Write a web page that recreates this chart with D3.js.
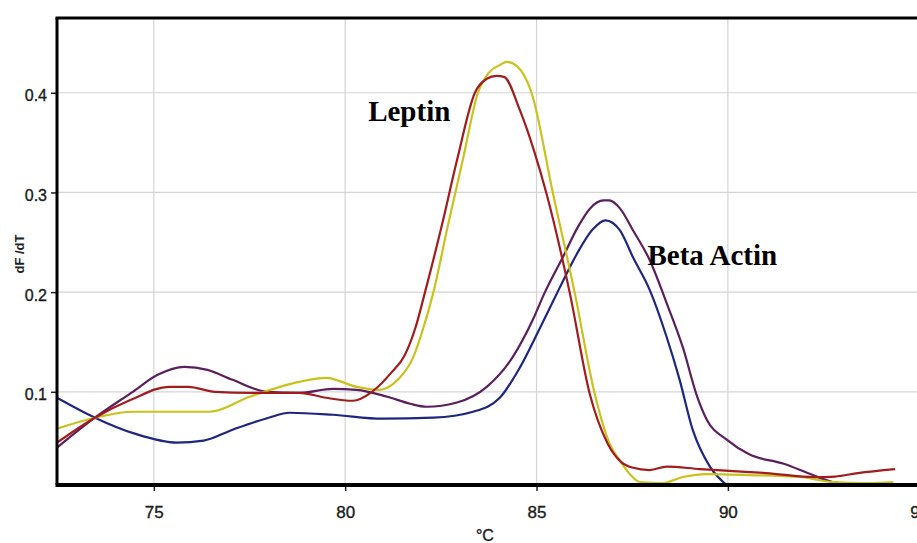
<!DOCTYPE html>
<html><head><meta charset="utf-8">
<script src="https://cdn.jsdelivr.net/npm/d3@7"></script>
<style>html,body{margin:0;padding:0;background:#fff;overflow:hidden}</style>
</head><body><svg id="c" width="917" height="543"></svg>
<script>
// ---- data (temperature °C, dF/dT) ----
const xTicks = [75, 80, 85, 90, 95];
const yTicks = [0.1, 0.2, 0.3, 0.4];
const xLabel = "°C";
const yLabel = "dF /dT";
const annotations = ["Leptin", "Beta Actin"];

const leptinRed = [[72.47,0.049],[73.46,0.074],[74.4,0.092],[75.4,0.105],[75.9,0.105],[76.6,0.100],[77.5,0.099],[78.8,0.099],[79.5,0.094],[80.2,0.091],[80.7,0.100],[81.2,0.119],[81.56,0.137],[81.85,0.166],[82.08,0.199],[82.52,0.266],[82.92,0.332],[83.39,0.400],[83.7,0.414],[83.95,0.417],[84.15,0.416],[84.56,0.383],[84.95,0.340],[85.26,0.299],[85.87,0.199],[86.39,0.098],[86.86,0.048],[87.2,0.030],[87.5,0.024],[87.96,0.0215],[88.4,0.025],[89.27,0.0225],[90.13,0.0205],[91.0,0.0185],[92.3,0.0145],[92.8,0.015],[93.4,0.0185],[94.37,0.0225]];
const leptinYellow = [[72.47,0.063],[73.46,0.074],[74.45,0.080],[75.5,0.080],[76.46,0.080],[77.5,0.095],[78.8,0.110],[79.5,0.114],[80.3,0.105],[80.9,0.102],[81.1,0.104],[81.4,0.113],[81.77,0.134],[82.05,0.165],[82.3,0.199],[82.68,0.266],[83.07,0.332],[83.47,0.400],[83.75,0.420],[84.05,0.428],[84.22,0.431],[84.48,0.427],[84.87,0.400],[85.43,0.299],[86.0,0.199],[86.52,0.098],[86.91,0.048],[87.18,0.031],[87.45,0.017],[87.7,0.0095],[88.3,0.0085],[88.82,0.0145],[89.45,0.0175],[90.57,0.0165],[91.88,0.0145],[92.74,0.0095],[93.63,0.0085],[94.32,0.0095]];
const actinPurple = [[72.47,0.044],[73.46,0.074],[74.45,0.100],[75.1,0.117],[75.8,0.125],[76.4,0.122],[77.06,0.112],[77.95,0.100],[78.8,0.099],[79.68,0.103],[80.3,0.102],[81.1,0.095],[81.7,0.088],[82.13,0.085],[82.9,0.089],[83.7,0.105],[84.38,0.135],[84.9,0.172],[85.22,0.200],[85.7,0.236],[86.09,0.266],[86.4,0.284],[86.75,0.292],[86.9,0.292],[87.18,0.284],[87.52,0.262],[87.96,0.232],[88.4,0.189],[88.82,0.145],[89.2,0.095],[89.45,0.072],[89.97,0.052],[90.57,0.037],[91.44,0.028],[92.22,0.0165],[92.74,0.0095],[93.27,0.0075],[93.6,0.0068]];
const actinNavy = [[72.47,0.094],[73.46,0.074],[74.5,0.058],[75.6,0.049],[76.3,0.051],[77.06,0.062],[78.0,0.074],[78.55,0.079],[79.68,0.077],[80.98,0.073],[82.3,0.074],[83.34,0.080],[84.04,0.094],[84.56,0.124],[85.09,0.164],[85.6,0.204],[86.05,0.238],[86.47,0.263],[86.8,0.272],[87.18,0.262],[87.52,0.235],[87.96,0.202],[88.4,0.155],[88.74,0.112],[89.08,0.062],[89.53,0.025],[89.97,0.0065]];

const seriesList = [
  {data: actinNavy, color: "#1f2680"},
  {data: actinPurple, color: "#5a1f5c"},
  {data: leptinYellow, color: "#c9c21c"},
  {data: leptinRed, color: "#a01c1f"}
];

// ---- layout ----
const svg = d3.select("#c");
const L = 57, T = 18, B = 485;
const x = d3.scaleLinear().domain([72.47, 95.5]).range([L, L + (95.5 - 72.47) * 38.27]);
const y = d3.scaleLinear().domain([0.0065, 0.475]).range([B, T]);
const R = 930;

svg.append("defs").append("clipPath").attr("id","clip")
  .append("rect").attr("x", L).attr("y", T).attr("width", R - L).attr("height", B - T);

// grid
const grid = svg.append("g");
grid.selectAll("line.v").data(xTicks).join("line")
  .attr("x1", d => x(d)).attr("x2", d => x(d)).attr("y1", T).attr("y2", B)
  .attr("stroke", "#d4d4d4").attr("stroke-width", 1.2);
grid.selectAll("line.h").data(yTicks).join("line")
  .attr("x1", L).attr("x2", R).attr("y1", d => y(d)).attr("y2", d => y(d))
  .attr("stroke", "#d4d4d4").attr("stroke-width", 1.2);

// axes
const fontAx = "'Liberation Sans', Arial, sans-serif";
const xAxis = svg.append("g").attr("transform", `translate(0,${B})`)
  .call(d3.axisBottom(x).tickValues(xTicks).tickSize(6).tickPadding(15).tickFormat(d3.format("d")));
xAxis.select(".domain").remove();
xAxis.selectAll("text").attr("font-size", 17).attr("font-family", fontAx).attr("fill", "#1a1a1a")
  .attr("stroke", "#1a1a1a").attr("stroke-width", 0.35);
xAxis.selectAll("line").attr("stroke", "#222").attr("stroke-width", 1.5);

const yAxis = svg.append("g").attr("transform", `translate(${L},0)`)
  .call(d3.axisLeft(y).tickValues(yTicks).tickSize(6).tickPadding(4).tickFormat(d3.format(".1f")));
yAxis.select(".domain").remove();
yAxis.selectAll("text").attr("font-size", 16).attr("font-family", fontAx).attr("fill", "#1a1a1a")
  .attr("dy", "0.5em").attr("stroke", "#1a1a1a").attr("stroke-width", 0.35);
yAxis.selectAll("line").attr("stroke", "#222").attr("stroke-width", 1.5);

// curves
const line = d3.line().x(d => x(d[0])).y(d => y(d[1])).curve(d3.curveMonotoneX);
svg.append("g").attr("clip-path", "url(#clip)")
  .selectAll("path").data(seriesList).join("path")
  .attr("d", d => line(d.data)).attr("fill", "none")
  .attr("stroke", d => d.color).attr("stroke-width", 2.2).attr("stroke-linejoin", "round");

// frame
svg.append("line").attr("x1", L - 1.5).attr("x2", 917).attr("y1", T).attr("y2", T).attr("stroke", "#000").attr("stroke-width", 3);
svg.append("line").attr("x1", L).attr("x2", L).attr("y1", T).attr("y2", B).attr("stroke", "#000").attr("stroke-width", 3);
svg.append("line").attr("x1", L - 1.5).attr("x2", 917).attr("y1", B).attr("y2", B).attr("stroke", "#000").attr("stroke-width", 4);

// axis titles
svg.append("text").attr("transform", `translate(24,254) rotate(-90)`).attr("text-anchor", "middle")
  .attr("font-family", fontAx).attr("font-size", 13).attr("font-weight", "bold").attr("fill", "#222").text(yLabel);
svg.append("text").attr("x", x(83.65)).attr("y", 541).attr("text-anchor", "middle")
  .attr("font-family", fontAx).attr("font-size", 16).attr("fill", "#1a1a1a")
  .attr("stroke", "#1a1a1a").attr("stroke-width", 0.35).text(xLabel);

// annotations
const fontAnn = "'Liberation Serif', 'Times New Roman', serif";
svg.append("text").attr("x", x(80.6)).attr("y", y(0.372)).attr("font-family", fontAnn)
  .attr("font-size", 29).attr("font-weight", "bold").attr("fill", "#000").text(annotations[0]);
svg.append("text").attr("x", x(87.9)).attr("y", y(0.227)).attr("font-family", fontAnn)
  .attr("font-size", 29).attr("font-weight", "bold").attr("fill", "#000").text(annotations[1]);
</script></body></html>
